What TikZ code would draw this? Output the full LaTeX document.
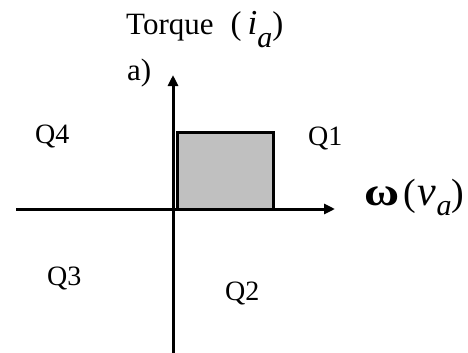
\documentclass[tikz,border=0pt]{standalone}
\usepackage{fontspec}
\setmainfont{Liberation Serif}
\usetikzlibrary{arrows.meta}
\newcommand{\fs}[1]{\fontsize{#1}{#1}\selectfont}
\begin{document}
\begin{tikzpicture}[x=1pt,y=-1pt,
  axis/.style={line width=3pt,-{Triangle[length=11pt,width=10pt]}},
  lbl/.style={font=\fs{28}, inner sep=0pt, anchor=base west},
  region/.style={draw, line width=3pt, fill={rgb,255:red,192;green,192;blue,192},
    inner sep=0pt, outer sep=0pt, minimum width=96pt, minimum height=76.5pt}]
\useasboundingbox (0,0) rectangle (468,353);
\node[region] (box) at (225.5,170.75) {};
\coordinate (xs) at (16,209);
\coordinate (xe) at (335,209);
\coordinate (ys) at (173,353);
\coordinate (ye) at (173,75);
\draw[axis] (xs) -- (xe);
\draw[axis] (ys) -- (ye);
\node[lbl] (q4) at (35,143) {Q4};
\node[lbl] (q3) at (47,285) {Q3};
\node[lbl] (q1) at (308,145) {Q1};
\node[lbl] (q2) at (225,300) {Q2};
\node[lbl, font=\fs{31}] (torque) at (126,35)
  {Torque\hspace{17pt}{\fs{33}(}\hspace{6pt}{\fs{35}\itshape i}\raisebox{-13pt}{\fs{30}\itshape a}{\fs{33})}};
\node[lbl, font=\fs{31}] (alab) at (127,80) {a)};
\node[lbl, font=\fs{38}] (omega) at (364,205)
  {\scalebox{1.2}[1]{\fs{40}\bfseries ω}\hspace{4pt}(\hspace{2pt}{\fs{42}\itshape v}\raisebox{-10pt}{\fs{30}\itshape a})};
\end{tikzpicture}
\end{document}
